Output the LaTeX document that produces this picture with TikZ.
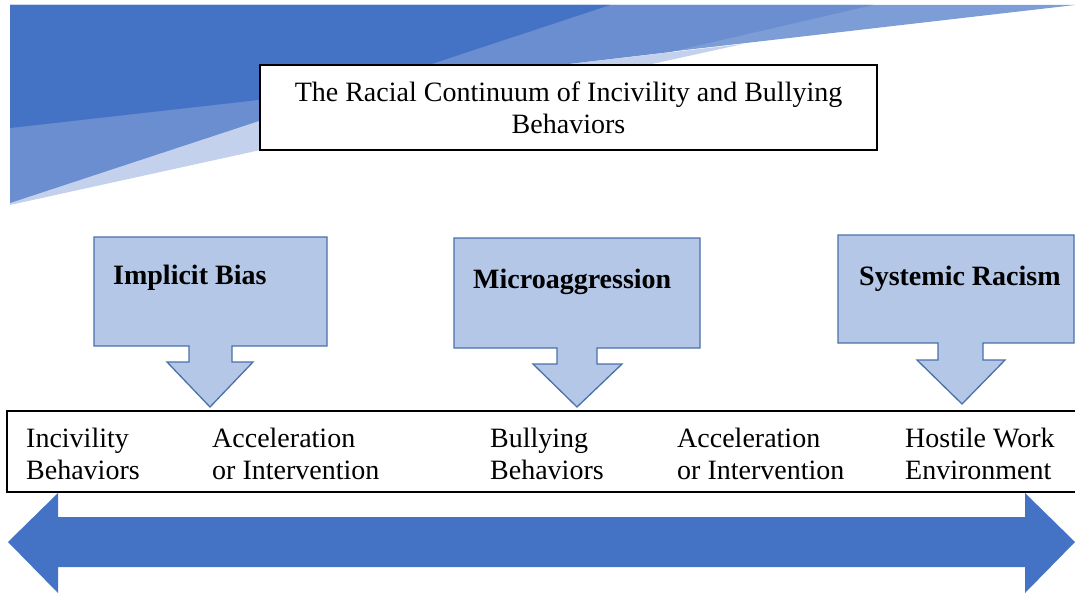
\documentclass[tikz,border=0pt]{standalone}
\usepackage{fontspec}
\setmainfont{Liberation Serif}
\definecolor{bandDark}{HTML}{4472C4}
\definecolor{bandMid}{HTML}{6A8ECF}
\definecolor{bandLight}{HTML}{7D9DD7}
\definecolor{bandPale}{HTML}{C3D1EC}
\definecolor{calloutFill}{HTML}{B4C7E7}
\definecolor{calloutLine}{HTML}{4A70AC}
\definecolor{arrowBlue}{HTML}{4472C4}
\newcommand\twoline[2]{\vtop{\hbox{#1}\hbox{#2}}}
\tikzset{
  txt/.style={inner sep=0pt, font=\fontsize{28}{32}\selectfont},
  boldtxt/.style={inner sep=0pt, font=\fontsize{28}{32}\selectfont\bfseries, anchor=base west},
  steplabel/.style={txt, anchor=base west},
  calloutshape/.style={fill=calloutFill, draw=calloutLine, line width=1.3pt, line join=miter},
  framebox/.style={draw=black, line width=1.4pt, fill=white, inner sep=0pt}
}
\begin{document}
\begin{tikzpicture}[x=1pt,y=-1pt]
\useasboundingbox (0,0) rectangle (1075,596);
% banner
\fill[bandLight] (10,5) -- (1075,5) -- (10,128) -- cycle;
\fill[bandPale] (10,128) -- (743,44) -- (10,205) -- cycle;
\fill[bandMid] (10,5) -- (873,5) -- (670,52) -- (356,89) -- (10,203) -- cycle;
\fill[bandDark] (10,5) -- (610,5) -- (356,89) -- (10,128) -- cycle;
% title
\node[framebox, txt, minimum width=617pt, minimum height=85pt, align=center] (title) at (568.5,107.5)
  {The Racial Continuum of Incivility and Bullying\\Behaviors};
% callouts
\draw[calloutshape] (94,237) -- (327,237) -- (327,346) -- (232,346) -- (232,362) -- (253,362)
  -- (210,407) -- (167,362) -- (189,362) -- (189,346) -- (94,346) -- cycle;
\draw[calloutshape] (454,238) -- (700,238) -- (700,348) -- (597,348) -- (597,364) -- (622,364)
  -- (577,407) -- (533,364) -- (557,364) -- (557,348) -- (454,348) -- cycle;
\draw[calloutshape] (838,235) -- (1074,235) -- (1074,343) -- (983,343) -- (983,360) -- (1005,360)
  -- (962,404) -- (917,360) -- (938,360) -- (938,343) -- (838,343) -- cycle;
\node[boldtxt] (bias) at (113,284) {Implicit Bias};
\node[boldtxt] (micro) at (473,288) {Microaggression};
\node[boldtxt] (systemic) at (859,285) {Systemic Racism};
% continuum box
\node[framebox, minimum width=1069pt, minimum height=81pt] (continuum) at (541.5,451.5) {};
\node[steplabel] (incivility) at (26,447) {\twoline{Incivility}{Behaviors}};
\node[steplabel] (accel1) at (212,447) {\twoline{Acceleration}{or Intervention}};
\node[steplabel] (bullying) at (490,447) {\twoline{Bullying}{Behaviors}};
\node[steplabel] (accel2) at (677,447) {\twoline{Acceleration}{or Intervention}};
\node[steplabel] (hostile) at (905,447) {\twoline{Hostile Work}{Environment}};
% double arrow
\fill[arrowBlue] (8,542) -- (58,493) -- (58,517) -- (1025,517) -- (1025,493) -- (1075,542)
  -- (1025,593) -- (1025,567) -- (58,567) -- (58,593) -- cycle;
\end{tikzpicture}
\end{document}
